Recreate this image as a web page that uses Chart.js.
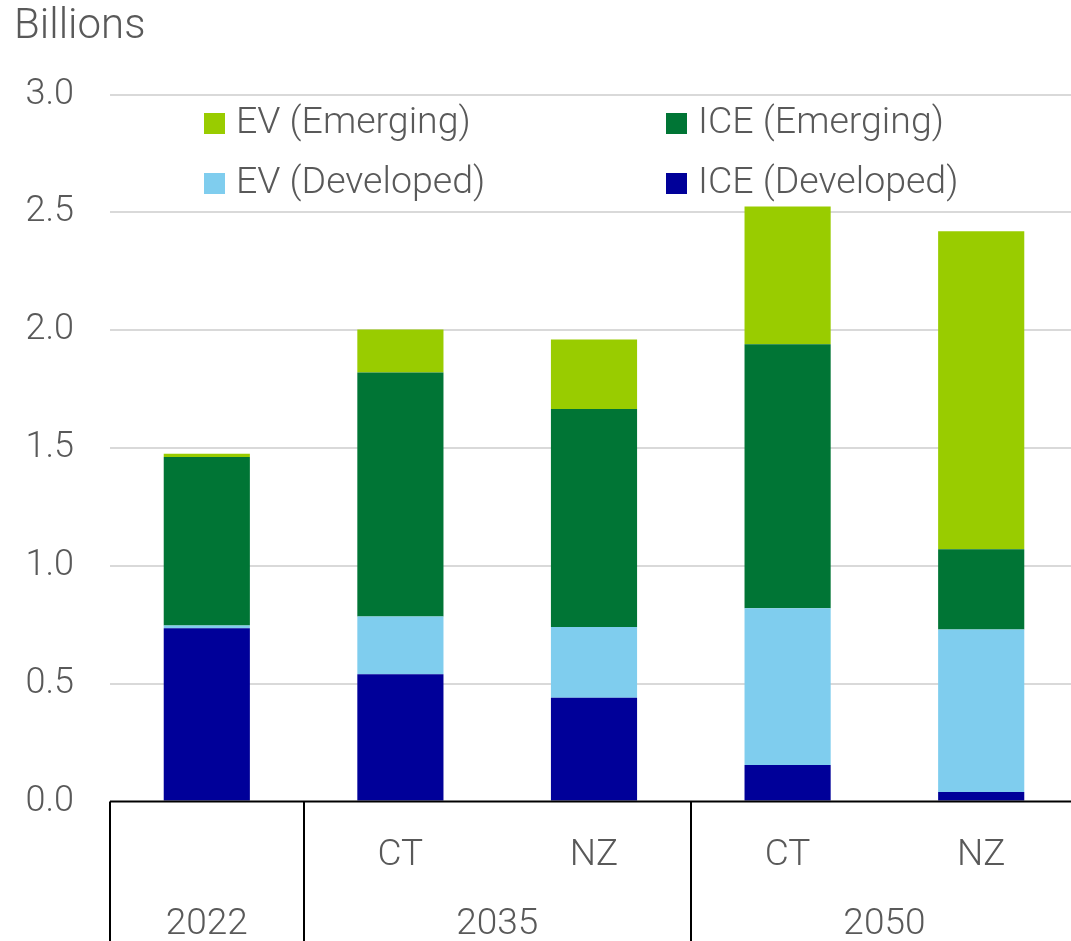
<!DOCTYPE html>
<html>
<head>
<meta charset="utf-8">
<script src="https://cdn.jsdelivr.net/npm/chart.js@4.4.1/dist/chart.umd.min.js"></script>
<style>
    html, body { margin: 0; padding: 0; background: #fff; overflow: hidden; }
    #wrap { position: relative; width: 1078px; height: 941px; }
</style>
</head>
<body>
<div id="wrap"><canvas id="chart" width="1078" height="941"></canvas></div>
<script>
// data
const categories = ['2022', '2035 CT', '2035 NZ', '2050 CT', '2050 NZ'];
const subLabels = ['', 'CT', 'NZ', 'CT', 'NZ'];
const groupLabels = ['2022', '2035', '2050'];
const groupSpans = [[0, 0], [1, 2], [3, 4]];

const iceDeveloped = [0.735, 0.54, 0.44, 0.155, 0.04];
const evDeveloped = [0.012, 0.245, 0.30, 0.665, 0.69];
const iceEmerging = [0.715, 1.035, 0.925, 1.12, 0.34];
const evEmerging = [0.014, 0.183, 0.295, 0.585, 1.35];

const yMin = 0;
const yMax = 3;
const yStep = 0.5;

const FONT = 'Roboto';
const GREY = '#595959';

const multiLevelAxis = {
    id: 'multiLevelAxis',
    afterDraw(chart) {
        const { ctx, chartArea, scales } = chart;
        const x = scales.x;
        const h = chart.height;
        ctx.save();
        ctx.strokeStyle = '#000';
        ctx.lineWidth = 2;
        ctx.beginPath();
        ctx.moveTo(chartArea.left, chartArea.bottom);
        ctx.lineTo(chartArea.right, chartArea.bottom);
        // separators between the groups
        const edges = [chartArea.left];
        groupSpans.forEach(([, to], i) => {
            if (i < groupSpans.length - 1) {
                edges.push((x.getPixelForValue(to) + x.getPixelForValue(to + 1)) / 2);
            }
        });
        edges.push(chartArea.right);
        edges.forEach(px => {
            ctx.moveTo(Math.round(px), chartArea.bottom);
            ctx.lineTo(Math.round(px), h);
        });
        ctx.stroke();

        ctx.fillStyle = GREY;
        ctx.textAlign = 'center';
        ctx.textBaseline = 'alphabetic';
        ctx.font = `300 37px ${FONT}`;
        subLabels.forEach((lab, i) => {
            if (lab) ctx.fillText(lab, x.getPixelForValue(i), chartArea.bottom + 63);
        });
        groupSpans.forEach(([from, to], i) => {
            const cx = (x.getPixelForValue(from) + x.getPixelForValue(to)) / 2;
            ctx.fillText(groupLabels[i], cx, chartArea.bottom + 132);
        });
        ctx.restore();
    }
};

const legendAndTitle = {
    id: 'legendAndTitle',
    afterDraw(chart) {
        const { ctx } = chart;
        const ds = chart.data.datasets;
        // legend grid: [dataset index, square x, baseline y]
        const slots = [
            [3, 204, 133], [2, 666, 133],
            [1, 204, 193], [0, 666, 193]
        ];
        ctx.save();
        ctx.font = `300 37.5px ${FONT}`;
        ctx.textBaseline = 'alphabetic';
        ctx.textAlign = 'left';
        slots.forEach(([i, sx, by]) => {
            ctx.fillStyle = ds[i].backgroundColor;
            ctx.fillRect(sx, by - 20, 21, 21);
            ctx.fillStyle = GREY;
            ctx.fillText(ds[i].label, sx + 32, by);
        });
        ctx.font = `300 42px ${FONT}`;
        ctx.fillText('Billions', 14, 38);
        ctx.restore();
    }
};

new Chart(document.getElementById('chart'), {
    type: 'bar',
    data: {
        labels: categories,
        datasets: [
            { label: 'ICE (Developed)', data: iceDeveloped, backgroundColor: '#000099' },
            { label: 'EV (Developed)', data: evDeveloped, backgroundColor: '#7FCDEE' },
            { label: 'ICE (Emerging)', data: iceEmerging, backgroundColor: '#007535' },
            { label: 'EV (Emerging)', data: evEmerging, backgroundColor: '#99CC00' }
        ]
    },
    options: {
        responsive: false,
        devicePixelRatio: 1,
        animation: false,
        layout: { padding: { left: 0, right: 0, top: 94.5, bottom: 139.5 } },
        datasets: {
            bar: { barPercentage: 0.445, categoryPercentage: 1, borderWidth: 0 }
        },
        plugins: {
            legend: { display: false },
            tooltip: { enabled: false }
        },
        scales: {
            x: {
                display: false,
                stacked: true
            },
            y: {
                stacked: true,
                min: yMin,
                max: yMax,
                afterFit(scale) { scale.width = 110; },
                border: { display: false },
                grid: {
                    drawTicks: false,
                    color: ctx => ctx.tick.value === 0 ? 'rgba(0,0,0,0)' : '#d9d9d9',
                    lineWidth: 2
                },
                ticks: {
                    stepSize: yStep,
                    padding: 36,
                    color: GREY,
                    font: { family: FONT, size: 36, weight: '300' },
                    callback: v => v.toFixed(1)
                }
            }
        }
    },
    plugins: [multiLevelAxis, legendAndTitle]
});
</script>
</body>
</html>
